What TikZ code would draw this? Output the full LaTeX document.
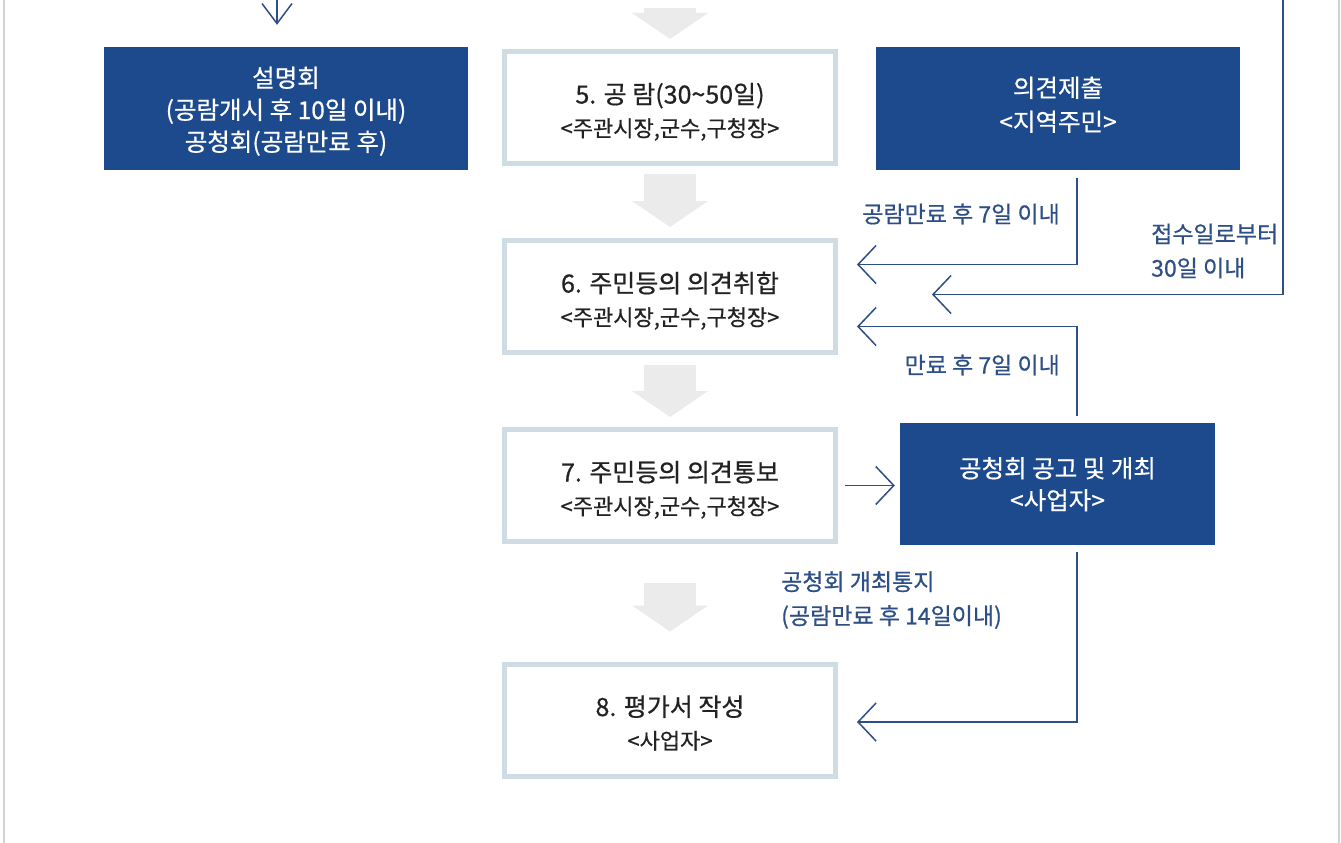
\documentclass[tikz,border=0pt]{standalone}
\usepackage{fontspec}
\setmainfont{Noto Sans CJK KR}[FakeBold=0.6]
\usetikzlibrary{arrows.meta}
\definecolor{navy}{HTML}{1C4A8C}
\definecolor{linkblue}{HTML}{2D4E86}
\definecolor{framegray}{HTML}{CFDCE4}
\definecolor{blockgray}{HTML}{EBEBEB}
\definecolor{ink}{HTML}{222222}
\newcommand\stepsub[1]{{\fontsize{22}{33}\selectfont #1}}
\tikzset{
  stepbox/.style={draw=framegray,line width=5pt,fill=white,minimum width=331pt,minimum height=112pt,
    align=center,text=ink,inner sep=0pt,text height=58pt,text depth=0pt,font=\fontsize{25}{33}\selectfont},
  darkbox/.style={fill=navy,text=white,align=center,inner sep=0pt,text depth=0pt,font=\fontsize{24.5}{34}\selectfont},
  link/.style={draw=linkblue,line width=1.5pt,-{Straight Barb[length=18pt,width=38pt]}},
  flow/.style={draw=blockgray,line width=52pt,-{Triangle[length=26pt,width=76pt,line width=0pt]}},
  note/.style={text=linkblue,font=\fontsize{23}{34}\selectfont,align=left,inner sep=0pt}
}
\begin{document}
\begin{tikzpicture}[x=1pt,y=-1pt,node distance=189pt]
  \useasboundingbox[fill=white] (0,0) rectangle (1341,843);
  \draw[gray!35,line width=2pt] (4,0) -- (4,843);
  \draw[gray!35,line width=2pt] (1339,0) -- (1339,843);
  % main steps
  \node[stepbox] (five) at (670,107.5) {5. 공 람(30\textasciitilde50일)\\\stepsub{<주관시장,군수,구청장>}};
  \node[stepbox] (six) [below of=five] {6. 주민등의 의견취합\\\stepsub{<주관시장,군수,구청장>}};
  \node[stepbox] (seven) [below of=six] {7. 주민등의 의견통보\\\stepsub{<주관시장,군수,구청장>}};
  \node[stepbox] (eight) [below of=seven,node distance=234.5pt] {8. 평가서 작성\\\stepsub{<사업자>}};
  % side boxes
  \node[darkbox,minimum width=364pt,minimum height=123pt,text height=85pt,font=\fontsize{24.5}{32}\selectfont] (brief) at (286,108.5) {설명회\\(공람개시 후 10일 이내)\\공청회(공람만료 후)};
  \node[darkbox,minimum width=364pt,minimum height=123pt,text height=45pt] (opinion) at (1058,108.5) {의견제출\\<지역주민>};
  \node[darkbox,minimum width=315pt,minimum height=122pt,text height=51pt,font=\fontsize{24.5}{32}\selectfont] (hearing) at (1057.5,484) {공청회 공고 및 개최\\<사업자>};
  % gray flow arrows
  \coordinate (prevstep) at (670,8);
  \draw[flow,shorten >=10pt] (prevstep) -- (five);
  \draw[flow,shorten <=8pt,shorten >=11pt] (five) -- (six);
  \draw[flow,shorten <=10pt,shorten >=10pt] (six) -- (seven);
  \draw[flow,shorten <=39pt,shorten >=30pt] (seven) -- (eight);
  % links
  \coordinate (prevbrief) at (277,0);
  \draw[link,-{Straight Barb[length=20pt,width=30pt]},shorten >=22pt] (prevbrief) -- (prevbrief |- brief.north);
  \draw[link] ([xshift=19pt,yshift=-8pt]opinion.south) |- ([xshift=19pt,yshift=32pt]six.east);
  \coordinate (receipt) at (1283,0);
  \draw[link] (receipt) |- ([xshift=94pt,yshift=2pt]six.east);
  \draw[link] ([xshift=19.5pt,yshift=7pt]hearing.north) |- ([xshift=19pt,yshift=-30pt]six.east);
  \draw[link,shorten <=7pt,shorten >=5pt] (seven.east) -- (seven.east -| hearing.west);
  \draw[link] ([xshift=19.5pt,yshift=-7pt]hearing.south) |- ([xshift=19pt,yshift=-2pt]eight.east);
  % notes
  \node[note,anchor=east] (expiry) at (1060,214) {공람만료 후 7일 이내};
  \node[note,anchor=west] (receiptnote) at (1151,251) {접수일로부터\\30일 이내};
  \node[note,anchor=east] (closenote) at (1060,365) {만료 후 7일 이내};
  \node[note,anchor=west] (notice) at (781,600) {공청회 개최통지\\(공람만료 후 14일이내)};
\end{tikzpicture}
\end{document}
